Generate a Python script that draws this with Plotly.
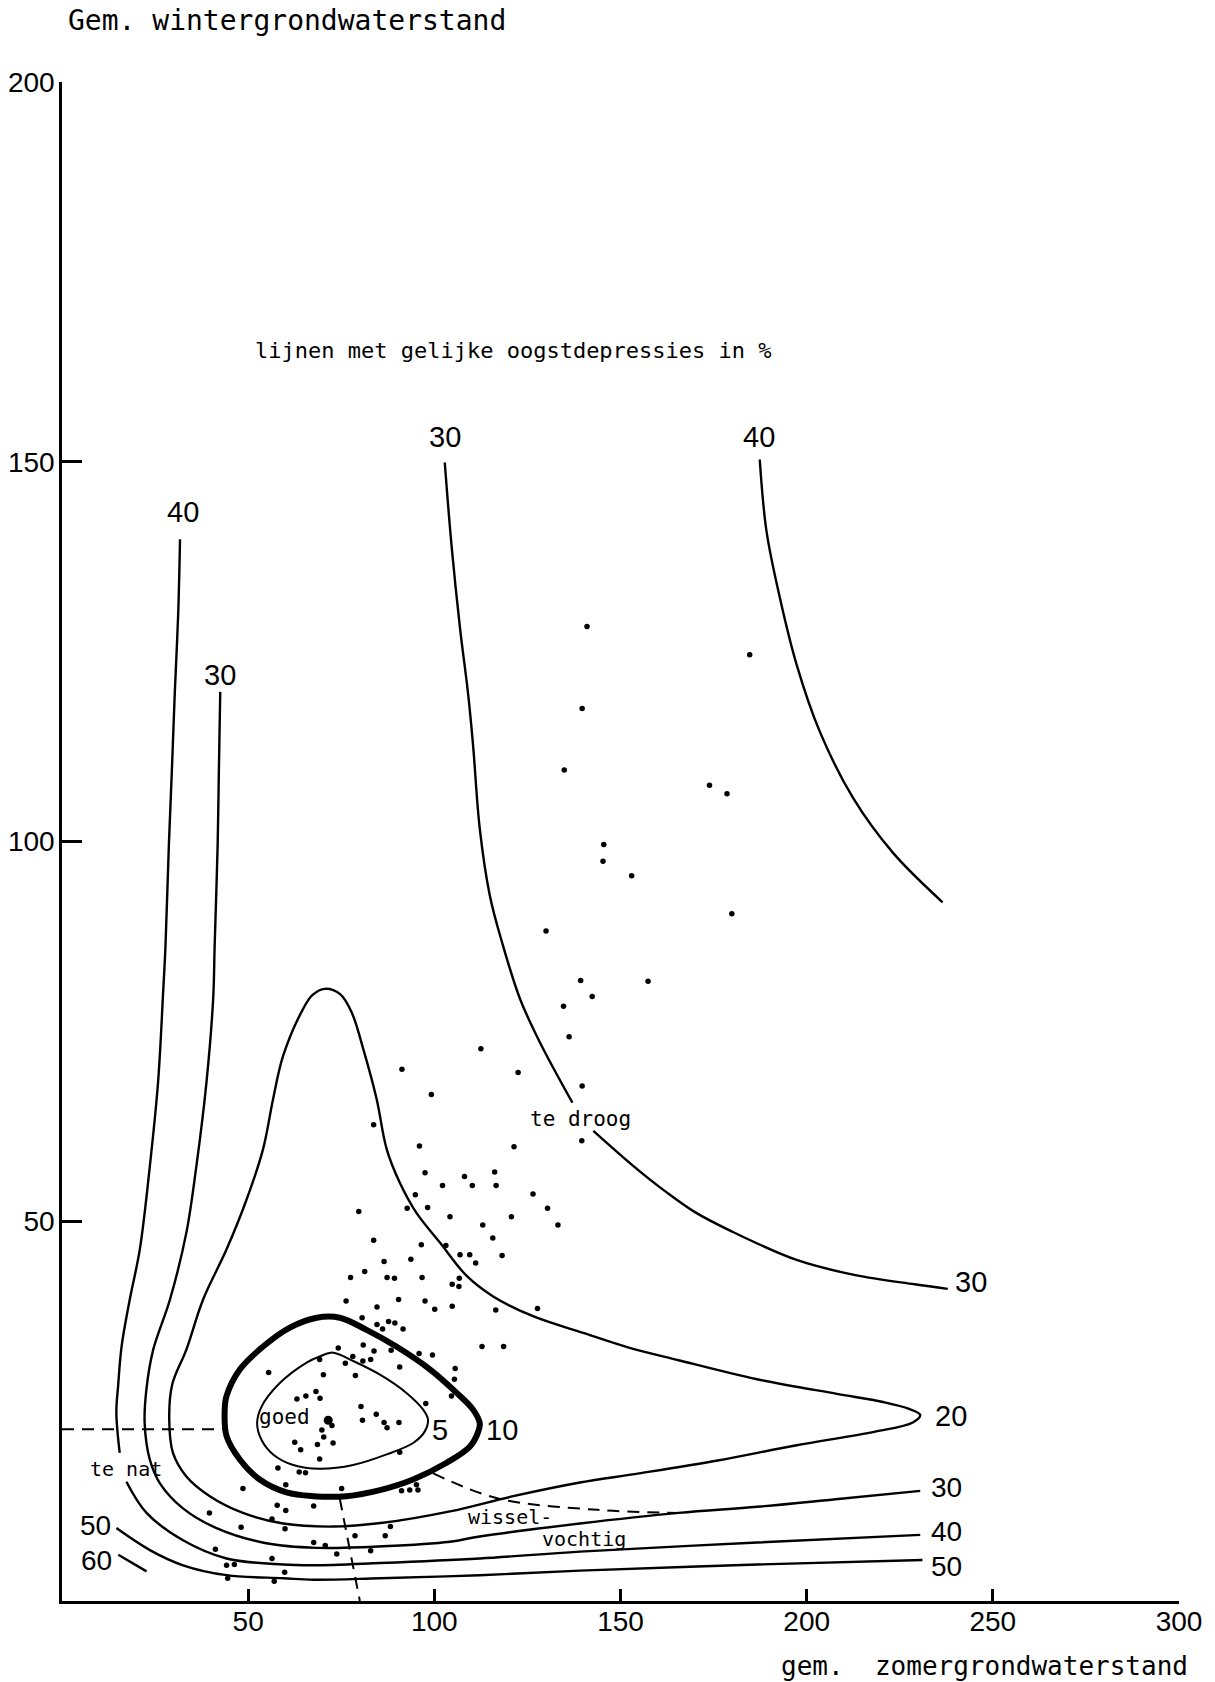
import plotly.graph_objects as go

# ---------------- data ----------------
# iso-lines of equal yield depression (%)
c40_left_x = [31.7, 31.2, 30.3, 29.6, 28.7, 27.8, 27.2, 25.8, 23.6, 20.9, 18.2, 16.0, 15.1, 14.6, 15.5,
              None, 17.3, 22.7, 32.5, 44.2, 59.4, 67.5, 85.4, 112.2, 139.1, 186.7, 230.5]
c40_left_y = [139.8, 129.9, 119.7, 110.5, 99.5, 86.3, 80.5, 68.3, 57.3, 46.3, 39.7, 33.5, 28.5, 24.8, 19.5,
              None, 15.7, 11.6, 8.0, 5.6, 4.8, 4.7, 5.0, 5.6, 6.5, 7.7, 8.7]

c30_left_x = [42.5, 42.1, 41.8, 41.0, 40.6, 38.8, 36.1, 33.4, 29.0, 24.5, 22.7, 22.2, 23.6, 26.3, 32.5,
              41.5, 54.9, 68.4, 86.2, 104.2, 112.2, 139.1, 165.6, 186.7, 207.8, 230.5]
c30_left_y = [119.7, 108.3, 99.5, 86.3, 79.3, 68.3, 57.3, 48.5, 39.7, 33.1, 28.0, 23.4, 18.6, 15.5, 12.2,
              9.6, 7.6, 7.0, 7.2, 7.8, 8.5, 10.2, 11.6, 12.4, 13.4, 14.5]

c20_x = [70.6, 74.7, 77.8, 80.9, 84.5, 87.2, 90.7, 95.2, 101.5, 108.7, 115.8, 126.5, 140.0, 152.0, 165.6,
         186.7, 207.8, 220.5, 227.5, 230.5, 228.5, 218.4, 197.3, 176.1, 155.0, 139.1, 121.2, 104.2, 86.2,
         72.8, 59.4, 48.6, 39.7, 33.4, 29.8, 28.8, 29.6, 33.4, 37.9, 44.2, 49.6, 54.0, 56.7, 59.4, 64.8,
         67.3, 70.6]
c20_y = [80.6, 79.9, 77.5, 72.7, 66.1, 59.5, 55.1, 51.1, 47.2, 42.8, 40.1, 37.5, 35.3, 33.4, 31.7,
         29.2, 27.3, 26.2, 25.3, 24.5, 23.5, 22.3, 20.5, 18.5, 16.8, 15.6, 13.8, 11.8, 10.3,
         9.8, 10.2, 11.6, 13.8, 16.4, 19.5, 23.9, 28.5, 33.1, 39.7, 46.3, 52.9, 59.5, 66.1, 71.8, 78.0,
         79.8, 80.6]

c10_x = [68.4, 74.6, 81.8, 89.8, 98.8, 106.0, 110.4, 112.2, 111.8, 109.5, 103.3, 94.3, 85.4, 76.4, 67.5,
         60.3, 53.1, 47.8, 44.2, 43.7, 44.2, 47.8, 54.0, 61.2, 68.4]
c10_y = [37.3, 37.3, 35.7, 33.5, 30.5, 27.4, 25.2, 23.4, 22.3, 20.3, 18.2, 16.0, 14.6, 13.8, 13.8,
         14.3, 16.0, 18.6, 21.7, 25.2, 27.0, 30.5, 33.5, 36.0, 37.3]

c5_x = [72.8, 78.2, 85.4, 92.5, 97.0, 98.3, 97.4, 94.3, 87.2, 78.2, 69.2, 62.1, 56.7, 53.6, 52.4, 53.6,
        58.5, 65.7, 69.2, 72.8]
c5_y = [32.7, 31.6, 29.8, 27.4, 25.2, 23.9, 22.3, 20.8, 19.3, 17.9, 17.4, 17.9, 19.3, 21.2, 23.4, 25.6,
        28.7, 31.4, 32.2, 32.7]

c30_upper_x = [102.8, 104.6, 106.9, 109.1, 110.4, 112.2, 114.9, 118.2, 123.0, 128.3, 137.1,
               None, 142.7, 153.4, 162.4, 170.0, 179.3, 197.3, 213.1, 229.0, 237.9]
c30_upper_y = [149.9, 139.1, 128.1, 119.3, 112.7, 101.7, 92.9, 86.7, 79.3, 73.6, 65.6,
               None, 61.9, 57.3, 53.8, 51.2, 48.8, 44.9, 42.9, 41.7, 41.1]

c40_right_x = [187.4, 189.2, 192.8, 197.3, 203.5, 212.5, 223.2, 236.5]
c40_right_y = [150.3, 140.9, 132.1, 123.3, 114.5, 105.7, 98.5, 92.0]

c50_x = [14.6, 23.6, 32.5, 44.2, 59.4, 67.5, 85.4, 112.2, 139.1, 186.7, 231.1]
c50_y = [9.6, 6.7, 4.7, 3.4, 3.0, 2.8, 3.0, 3.4, 4.0, 4.8, 5.4]

c60_x = [15.1, 22.7]
c60_y = [6.1, 3.9]

# dashed boundary lines (te nat / goed / wisselvochtig)
dash_h_x = [0, 43.5]
dash_h_y = [22.6, 22.6]
dash_v_x = [74.6, 80.0]
dash_v_y = [13.5, 0]
dash_w_x = [99.7, 117.1, 143.8, 165.6]
dash_w_y = [16.8, 13.5, 12.0, 11.6]

# observation points (summer level, winter level)
obs_x = [139.3, 157.4, 142.4, 134.7, 136.2, 112.5, 91.3, 122.5, 99.2, 139.7, 83.7, 139.6, 121.4, 96.0,
         116.2, 97.5, 108.1, 110.2, 116.6, 102.2, 94.9, 126.5, 79.7, 92.7, 98.2, 130.4, 104.2, 120.7,
         113.0, 133.2, 83.7, 115.7, 96.5, 103.1, 106.9, 109.5, 118.2, 111.1, 93.7, 86.5, 81.3, 77.5,
         87.3, 89.3, 96.7, 106.7, 104.8, 106.6, 76.3, 90.4, 97.5, 100.1, 104.8, 116.5, 127.7, 84.6,
         80.6, 84.6, 87.7, 89.4, 86.1, 91.6, 74.2, 80.9, 112.8, 118.6,
         141.0, 184.7, 139.7, 134.9, 173.9, 178.6, 145.5, 145.3, 153.0, 179.9, 130.0,
         83.8, 88.4, 95.9, 99.5, 78.1, 76.1, 80.8, 82.9, 69.2, 90.7, 105.6, 55.5, 70.2, 78.8, 105.4,
         104.6, 68.2, 65.5, 63.1, 69.3, 97.7, 80.3, 84.4, 80.7, 72.5, 86.5, 90.5, 87.3, 69.8, 70.3,
         62.5, 72.8, 68.6, 64.1, 90.7, 69.2, 58.0, 63.7, 65.4, 48.6, 60.1, 75.1, 91.2, 93.4, 95.6,
         95.2, 57.8, 60.1, 67.6, 39.6, 56.4, 48.1, 59.9, 88.2, 78.7, 86.8, 67.6, 70.7, 82.9, 73.8,
         41.2, 56.4, 44.2, 46.3, 59.8, 44.5, 57.0]
obs_y = [81.7, 81.6, 79.6, 78.3, 74.3, 72.7, 70.0, 69.6, 66.7, 67.8, 62.7, 60.6, 59.8, 59.9,
         56.5, 56.4, 55.9, 54.7, 54.7, 54.7, 53.5, 53.6, 51.3, 51.7, 51.8, 51.7, 50.6, 50.6,
         49.5, 49.5, 47.5, 47.8, 46.9, 46.8, 45.6, 45.6, 45.5, 44.5, 45.0, 44.7, 43.4, 42.6,
         42.6, 42.5, 42.6, 42.5, 41.7, 41.4, 39.5, 39.7, 39.5, 38.4, 38.8, 38.3, 38.5, 38.7,
         37.3, 36.4, 36.8, 36.6, 35.8, 35.8, 33.3, 33.7, 33.5, 33.5,
         128.3, 124.6, 117.5, 109.4, 107.4, 106.3, 99.6, 97.4, 95.5, 90.5, 88.2,
         32.9, 33.0, 32.6, 32.4, 32.2, 31.3, 31.6, 31.8, 31.8, 30.8, 30.6, 30.1, 29.8, 29.7, 29.2,
         27.0, 27.6, 27.0, 26.6, 26.7, 26.0, 25.6, 24.6, 23.8, 23.1, 23.5, 23.5, 22.8, 22.5, 21.6,
         20.9, 20.8, 20.6, 19.9, 19.6, 18.7, 17.5, 17.0, 16.9, 14.8, 15.3, 14.8, 14.5, 14.6, 14.6,
         15.3, 12.6, 11.9, 12.5, 11.6, 10.8, 9.7, 9.5, 9.8, 8.6, 8.6, 7.7, 7.3, 6.6, 6.2,
         6.8, 5.6, 4.7, 4.8, 3.8, 3.0, 2.6]

goed_x = [71.5]
goed_y = [23.8]

x_ticks = [50, 100, 150, 200, 250, 300]
y_ticks = [50, 100, 150, 200]

# ---------------- figure ----------------
WORD_FONT = "DejaVu Sans Mono, monospace"
NUM_FONT = "Liberation Sans, Arial, sans-serif"

fig = go.Figure()


def curve(xs, ys, width=2.4, dash=None, shape="spline"):
    fig.add_trace(go.Scatter(
        x=xs, y=ys, mode="lines", connectgaps=False, hoverinfo="skip",
        line=dict(color="black", width=width, shape=shape, smoothing=1.0,
                  dash=dash if dash else "solid"),
        showlegend=False))


curve(c40_left_x, c40_left_y)
curve(c30_left_x, c30_left_y)
curve(c20_x, c20_y)
curve(c10_x, c10_y, width=6)
curve(c5_x, c5_y, width=2)
curve(c30_upper_x, c30_upper_y)
curve(c40_right_x, c40_right_y)
curve(c50_x, c50_y)
curve(c60_x, c60_y)
curve(dash_h_x, dash_h_y, width=2, dash="12px,8px", shape="linear")
curve(dash_v_x, dash_v_y, width=2, dash="12px,8px", shape="linear")
curve(dash_w_x, dash_w_y, width=2, dash="12px,8px")

fig.add_trace(go.Scatter(x=obs_x, y=obs_y, mode="markers", hoverinfo="skip",
                         marker=dict(color="black", size=5.5, line=dict(width=0)),
                         showlegend=False))
fig.add_trace(go.Scatter(x=goed_x, y=goed_y, mode="markers", hoverinfo="skip",
                         marker=dict(color="black", size=9, line=dict(width=0)),
                         showlegend=False))

annotations = []


def label(text, x, y, size=29, font=NUM_FONT, xanchor="center", ref="x"):
    annotations.append(dict(text=text, x=x, y=y,
                            xref="x" if ref == "x" else "paper",
                            yref="y" if ref == "x" else "paper",
                            showarrow=False, xanchor=xanchor, yanchor="middle",
                            font=dict(family=font, size=size, color="black")))


# contour values
label("40", 32.4, 143.4)
label("30", 42.4, 121.9)
label("30", 102.8, 153.3)
label("40", 187.2, 153.3)
label("30", 244.2, 42.0)
label("20", 238.7, 24.4)
label("30", 237.6, 14.9, size=28)
label("40", 237.6, 9.2, size=28)
label("50", 237.6, 4.6, size=28)
label("50", 8.9, 9.9, size=28)
label("60", 9.3, 5.3, size=28)
label("5", 101.6, 22.5)
label("10", 118.3, 22.5)

# text labels
label("goed", 59.8, 24.2, size=21, font=WORD_FONT)
label("te nat", 17.2, 17.4, size=20, font=WORD_FONT)
label("te droog", 139.3, 63.4, size=21, font=WORD_FONT)
label("wissel-", 120.3, 11.0, size=20, font=WORD_FONT)
label("vochtig", 140.3, 8.1, size=20, font=WORD_FONT)
label("lijnen met gelijke oogstdepressies in %", 51.2, 164.6, size=22, font=WORD_FONT,
      xanchor="left")
# axis titles (paper coordinates, outside the plotting area)
label("Gem. wintergrondwaterstand", 0.0036, 1.0405, size=28, font=WORD_FONT,
      xanchor="left", ref="paper")
label("gem.\u00a0 zomergrondwaterstand", 1.0098, -0.0425, size=26, font=WORD_FONT,
      xanchor="right", ref="paper")

fig.update_layout(
    width=1215, height=1682,
    margin=dict(l=62, r=36, t=82, b=81, pad=0, autoexpand=False),
    paper_bgcolor="white", plot_bgcolor="white",
    annotations=annotations,
    showlegend=False,
    xaxis=dict(range=[0, 300], tickvals=x_ticks, ticktext=[str(v) for v in x_ticks],
               showline=True, linecolor="black", linewidth=2.5, ticks="inside",
               ticklen=12, tickwidth=2.5, tickcolor="black", showgrid=False, zeroline=False,
               ticklabelstandoff=-6, automargin=False,
               tickfont=dict(family=NUM_FONT, size=28, color="black")),
    yaxis=dict(range=[0, 200], tickvals=y_ticks, ticktext=[str(v) for v in y_ticks],
               showline=True, linecolor="black", linewidth=2.5, ticks="inside",
               ticklen=20, tickwidth=2.5, tickcolor="black", showgrid=False, zeroline=False,
               ticklabelstandoff=-1, automargin=False,
               tickfont=dict(family=NUM_FONT, size=28, color="black")),
)

fig.write_html("out.html")
